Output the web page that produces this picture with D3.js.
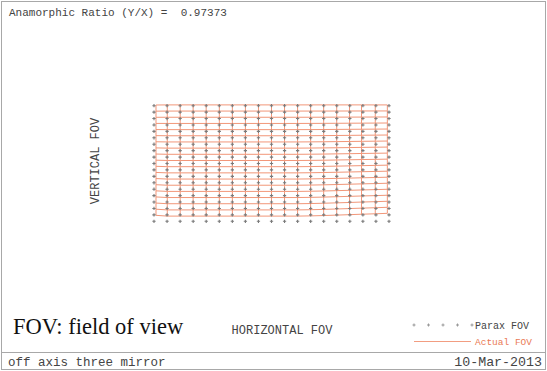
<!DOCTYPE html>
<html>
<head>
<meta charset="utf-8">
<script src="https://cdn.jsdelivr.net/npm/d3@7/dist/d3.min.js"></script>
<style>
  html, body { margin: 0; padding: 0; background: #ffffff; }
  svg { display: block; }
  .mono { font-family: "Liberation Mono", "DejaVu Sans Mono", monospace; fill: #444; white-space: pre; }
</style>
</head>
<body>
<svg id="chart" width="547" height="371"></svg>
<script>
// Paraxial field grid (normalised field units, 19 x 19)
const paraxField = [-1, -0.8889, -0.7778, -0.6667, -0.5556, -0.4444, -0.3333, -0.2222, -0.1111, 0,
                    0.1111, 0.2222, 0.3333, 0.4444, 0.5556, 0.6667, 0.7778, 0.8889, 1];

// Actual (real-ray) field: x of each column, y of each row
const actualColX = [-0.983, -0.887, -0.777, -0.667, -0.556, -0.444, -0.333, -0.222, -0.111, 0,
                    0.111, 0.222, 0.333, 0.444, 0.555, 0.664, 0.766, 0.883, 0.986];
const actualRowY = [1.014, 0.907, 0.800, 0.693, 0.586, 0.480, 0.373, 0.266, 0.159, 0.052,
                    -0.055, -0.162, -0.269, -0.376, -0.483, -0.589, -0.696, -0.803, -0.910];
// Per-column vertical magnification and offset of the real-ray field
const colScaleY = [0.992, 1, 1, 1, 1, 1, 1, 1, 1, 1, 1, 1, 0.998, 0.995, 0.991, 0.987, 0.983, 0.979, 0.975];
const colShiftY = [0.006, 0, 0, 0, 0, 0, 0, 0, 0, 0, 0, 0, 0.002, 0.005, 0.009, 0.013, 0.017, 0.021, 0.025];

const ratioText = "Anamorphic Ratio (Y/X) =  0.97373";
const xTitle = "HORIZONTAL FOV";
const yTitle = "VERTICAL FOV";
const legendLabels = ["Parax FOV", "Actual FOV"];
const footerLeft = "off axis three mirror";
const footerRight = "10-Mar-2013";
const caption = "FOV: field of view";

const W = 547, H = 371;
const svg = d3.select("#chart");
const actualColor = "#f08562";
const paraxColor = "#7a7a7a";

// frame
svg.append("rect").attr("x", 1.5).attr("y", 1.5).attr("width", W - 3).attr("height", H - 3)
  .attr("fill", "#fff").attr("stroke", "#a8a8a8").attr("stroke-width", 1);
svg.append("line").attr("x1", 1.5).attr("x2", W - 1.5).attr("y1", 352.5).attr("y2", 352.5)
  .attr("stroke", "#a8a8a8").attr("stroke-width", 1);

const x = d3.scaleLinear().domain([-1, 1]).range([154, 389]);
const y = d3.scaleLinear().domain([-1, 1]).range([221.3, 105.7]);

// actual grid points
const pt = (i, j) => [x(actualColX[i]), y(actualRowY[j] * colScaleY[i] + colShiftY[i])];
const line = d3.line();
const g = svg.append("g").attr("opacity", 0.85);
const idx = d3.range(paraxField.length);

// rows
idx.forEach(j => {
  g.append("path").attr("d", line(idx.map(i => pt(i, j))))
    .attr("fill", "none").attr("stroke", actualColor).attr("stroke-width", 1);
});
// columns
idx.forEach(i => {
  g.append("path").attr("d", line(idx.map(j => pt(i, j))))
    .attr("fill", "none").attr("stroke", actualColor).attr("stroke-width", 1);
});

// paraxial markers
const plus = d3.symbol().type(d3.symbolCross).size(6);
const paraxPts = [];
paraxField.forEach(fx => paraxField.forEach(fy => paraxPts.push([fx, fy])));
svg.append("g").selectAll("path").data(paraxPts).join("path")
  .attr("d", plus)
  .attr("transform", d => `translate(${x(d[0])},${y(d[1])})`)
  .attr("fill", paraxColor);

// texts
svg.append("text").attr("class", "mono").attr("x", 9).attr("y", 16)
  .attr("xml:space", "preserve")
  .style("font-size", "11px").text(ratioText);
svg.append("text").attr("class", "mono")
  .attr("transform", "translate(99,161) rotate(-90)").attr("text-anchor", "middle")
  .style("font-size", "12px").text(yTitle);
svg.append("text").attr("class", "mono").attr("x", 282).attr("y", 334)
  .attr("text-anchor", "middle").style("font-size", "12px").text(xTitle);
svg.append("text").attr("x", 13).attr("y", 334)
  .style("font-family", "'Liberation Serif', 'DejaVu Serif', serif")
  .style("font-size", "22.5px").style("fill", "#111").text(caption);

// legend
const legendDots = [414, 428.5, 443, 457.5, 472];
svg.append("g").selectAll("path").data(legendDots).join("path")
  .attr("d", d3.symbol().type(d3.symbolCross).size(5))
  .attr("transform", d => `translate(${d},325)`).attr("fill", "#999");
svg.append("text").attr("class", "mono").attr("x", 475).attr("y", 328.5)
  .style("font-size", "10px").text(legendLabels[0]);
svg.append("line").attr("x1", 414).attr("x2", 471).attr("y1", 341.5).attr("y2", 341.5)
  .attr("stroke", actualColor).attr("stroke-width", 1).attr("opacity", 0.8);
svg.append("text").attr("class", "mono").attr("x", 475).attr("y", 345)
  .style("font-size", "9.5px").style("fill", "#ea7a55").text(legendLabels[1]);

// footer
svg.append("text").attr("class", "mono").attr("x", 8).attr("y", 366)
  .style("font-size", "12.5px").text(footerLeft);
svg.append("text").attr("class", "mono").attr("x", 542).attr("y", 366)
  .attr("text-anchor", "end").style("font-size", "13.3px").text(footerRight);
</script>
</body>
</html>
